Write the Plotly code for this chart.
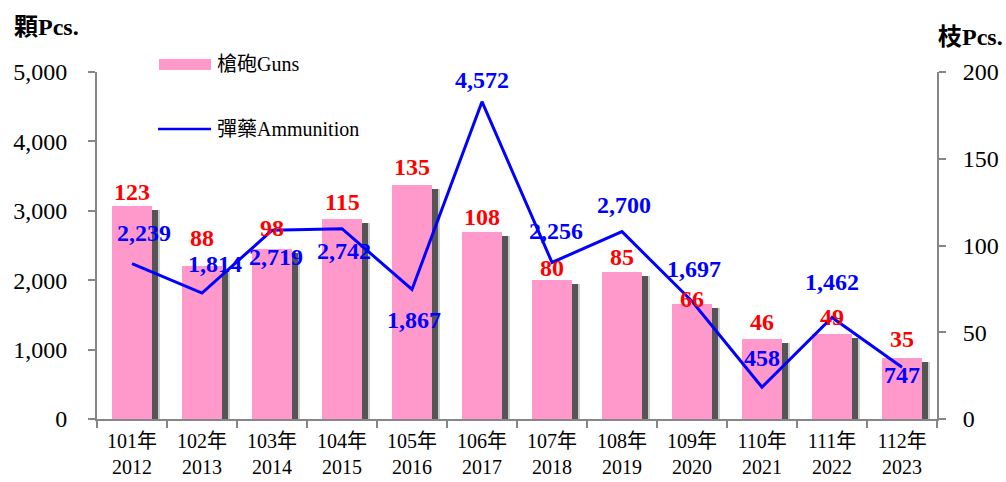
import plotly.graph_objects as go

# ---- data ----
categories = ["101年<br>2012", "102年<br>2013", "103年<br>2014", "104年<br>2015",
              "105年<br>2016", "106年<br>2017", "107年<br>2018", "108年<br>2019",
              "109年<br>2020", "110年<br>2021", "111年<br>2022", "112年<br>2023"]
guns = [123, 88, 98, 115, 135, 108, 80, 85, 66, 46, 49, 35]
ammunition = [2239, 1814, 2719, 2742, 1867, 4572, 2256, 2700, 1697, 458, 1462, 747]
left_ticks = [0, 1000, 2000, 3000, 4000, 5000]
right_ticks = [0, 50, 100, 150, 200]

# ---- label placement styles (pixel shifts) ----
gun_label_dy = [14, 28, 21, 17, 18, 15, 12, 15, 5, 17, 17, 19]
ammo_label_dy = [31, 29, -27, -22, -31, 22, 31, 27, 32, 29, 36, -8]
ammo_label_dx = [12, 13, 4, 2, 2, 0, 4, 2, 2, 0, 0, 0]

SERIF = "Liberation Serif"
SERIF_CJK = "Liberation Serif, Noto Sans CJK TC"
PINK = "#FF99CC"
GRAY = "#868686"

L, R, T, B = 97, 937, 72, 419
bar_w = 0.57
px_per_cat = (R - L) / 12
shadow_dx = 6 / px_per_cat
shadow_dy = 4 * 200 / (B - T)

fig = go.Figure()

# soft outer shadow
fig.add_trace(go.Bar(
    x=categories, y=[g - shadow_dy for g in guns], width=bar_w,
    offset=-bar_w / 2 + shadow_dx + 2 / px_per_cat,
    marker=dict(color="rgba(0,0,0,0.2)", line=dict(width=0)),
    showlegend=False, hoverinfo="skip", yaxis="y"))
# dark shadow
fig.add_trace(go.Bar(
    x=categories, y=[g - shadow_dy for g in guns], width=bar_w,
    offset=-bar_w / 2 + shadow_dx,
    marker=dict(color="#555555", line=dict(width=0)),
    showlegend=False, hoverinfo="skip", yaxis="y"))
# guns bars
fig.add_trace(go.Bar(
    x=categories, y=guns, width=bar_w, offset=-bar_w / 2,
    marker=dict(color=PINK, line=dict(width=0)),
    name="槍砲Guns", showlegend=False, yaxis="y"))
# ammunition line
fig.add_trace(go.Scatter(
    x=categories, y=ammunition, mode="lines",
    line=dict(color="#0000FF", width=3),
    name="彈藥Ammunition", showlegend=False, yaxis="y2"))

annotations = []
for c, g, dy in zip(categories, guns, gun_label_dy):
    annotations.append(dict(
        x=c, y=g, xref="x", yref="y", text=f"<b>{g}</b>", showarrow=False,
        yanchor="middle", xanchor="center", yshift=dy,
        font=dict(family=SERIF, size=24, color="#FF0000")))
for c, a, dy, dx in zip(categories, ammunition, ammo_label_dy, ammo_label_dx):
    annotations.append(dict(
        x=c, y=a, xref="x", yref="y2", text=f"<b>{a:,}</b>", showarrow=False,
        yanchor="middle", xanchor="center", yshift=dy, xshift=dx,
        font=dict(family=SERIF, size=24, color="#0000FF")))


def px2x(px):
    return (px - L) / (R - L)


def py2y(py):
    return (B - py) / (B - T)


# axis unit titles
annotations.append(dict(
    x=px2x(12), y=py2y(27), xref="paper", yref="paper", xanchor="left",
    yanchor="middle", text="<b>顆Pcs.</b>", showarrow=False,
    font=dict(family=SERIF_CJK, size=24, color="black")))
annotations.append(dict(
    x=px2x(1005), y=py2y(37), xref="paper", yref="paper", xanchor="right",
    yanchor="middle", text="<b>枝Pcs.</b>", showarrow=False,
    font=dict(family=SERIF_CJK, size=24, color="black")))

# custom legend
shapes = [
    dict(type="rect", xref="paper", yref="paper",
         x0=px2x(159), x1=px2x(211), y0=py2y(70), y1=py2y(59),
         fillcolor=PINK, line=dict(width=0)),
    dict(type="line", xref="paper", yref="paper",
         x0=px2x(158), x1=px2x(211), y0=py2y(129), y1=py2y(129),
         line=dict(color="#0000FF", width=2.5)),
]
annotations.append(dict(
    x=px2x(215), y=py2y(64), xref="paper", yref="paper", xanchor="left",
    yanchor="middle", text="槍砲Guns", showarrow=False,
    font=dict(family=SERIF_CJK, size=20, color="black")))
annotations.append(dict(
    x=px2x(215), y=py2y(129), xref="paper", yref="paper", xanchor="left",
    yanchor="middle", text="彈藥Ammunition", showarrow=False,
    font=dict(family=SERIF_CJK, size=20, color="black")))

fig.update_layout(
    width=1006, height=482,
    margin=dict(l=L, r=1006 - R, t=T, b=482 - B, autoexpand=False),
    paper_bgcolor="white", plot_bgcolor="white",
    barmode="overlay", bargap=0,
    showlegend=False,
    font=dict(family=SERIF_CJK, color="black"),
    xaxis=dict(
        type="category", showline=True, linecolor=GRAY, linewidth=2,
        ticks="outside", tickson="boundaries", ticklen=7, tickcolor=GRAY,
        tickwidth=1.5, showgrid=False, zeroline=False, automargin=False,
        ticklabelstandoff=3,
        tickfont=dict(family=SERIF_CJK, size=20, color="black"),
        range=[-0.5, 11.5]),
    yaxis=dict(
        side="right", range=[0, 200], tickvals=right_ticks,
        showline=True, linecolor=GRAY, linewidth=2, ticks="outside",
        ticklen=7, tickcolor=GRAY, tickwidth=1.5, showgrid=False,
        zeroline=False, ticklabelstandoff=12, automargin=False,
        tickfont=dict(family=SERIF, size=24, color="black")),
    yaxis2=dict(
        side="left", overlaying="y", range=[0, 5000], tickvals=left_ticks,
        tickformat=",", showline=True, linecolor=GRAY, linewidth=2,
        ticks="outside", ticklen=7, tickcolor=GRAY, tickwidth=1.5,
        showgrid=False, zeroline=False, ticklabelstandoff=16, automargin=False,
        tickfont=dict(family=SERIF, size=24, color="black")),
    annotations=annotations,
    shapes=shapes,
)

fig.write_html(
    "out.html",
    config={"displayModeBar": False},
    post_script="document.body.style.margin='0';document.body.style.overflow='hidden';",
)
